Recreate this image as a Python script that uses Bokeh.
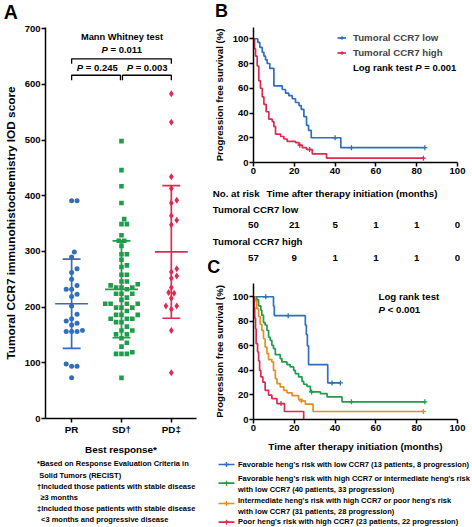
import numpy as np
from bokeh.plotting import figure
from bokeh.layouts import row, column
from bokeh.models import Label, Legend, LegendItem, FixedTicker
from bokeh.embed import file_html
from bokeh.resources import INLINE

# ---------------- data ----------------
groups = ["PR", "SD†", "PD‡"]
pr_values = [391, 391, 299, 290, 269, 262, 250, 239, 232, 232, 223, 219, 202, 187,
             179, 175, 171, 168, 156, 156, 156, 158, 94, 94, 98, 73]
sd_values = [498, 446, 417, 387, 358, 349, 349, 329, 319, 319, 310, 295, 295, 285, 275,
             272, 258, 258, 246, 246, 241, 239, 235, 235, 235, 232, 224, 224, 224, 217,
             213, 206, 206, 206, 206, 199, 199, 199, 193, 186, 186, 186, 179, 179, 179,
             173, 173, 165, 158, 158, 151, 151, 144, 136, 129, 119, 116, 116, 116, 73]
pd_values = [583, 532, 434, 413, 392, 387, 364, 356, 348, 269, 263, 256, 252, 235,
             226, 225, 216, 202, 202, 196, 158, 82]
group_means = [206, 232, 299]
group_sds = [80, 87, 119]
p_all, p_pr_sd, p_sd_pd = "0.011", "0.245", "0.003"

# Panel B Kaplan-Meier (months, %)
b_low_time = [0, 2.1, 3.1, 4.3, 5.1, 5.9, 6.7, 8.0, 10.0, 14.1, 15.7, 17.3, 19.0, 20.6,
              22.3, 23.4, 24.7, 26.0, 27.0, 28.3, 42.8, 84]
b_low_surv = [100, 97, 93, 89, 86, 83, 80, 76, 62, 59, 56, 54, 51.5, 48.5, 46, 43, 37,
              30, 26, 20, 12, 12]
b_low_cens_t = [40, 48, 84]
b_low_cens_s = [20, 12, 12]
b_high_time = [0, 0.5, 1, 1.8, 2.6, 3.4, 4.3, 5.1, 6.2, 7.5, 9.2, 10, 10.8, 13.3, 14.9,
               16.5, 20.6, 22.3, 23.9, 26, 28.8, 35.8, 83.3]
b_high_surv = [100, 92, 86, 78, 66, 60, 53, 47, 41, 35, 33, 29, 23, 21, 19, 17, 16, 14,
               12, 10.5, 7, 3.5, 3.5]
b_high_cens_t = [22.7, 27.5, 83.3]
b_high_cens_s = [14, 10.5, 3.5]
risk_times = [0, 20, 40, 60, 80, 100]
risk_low = [50, 21, 5, 1, 1, 0]
risk_high = [57, 9, 1, 1, 1, 0]

# Panel C Kaplan-Meier
c_blue_time = [0, 9.8, 10.2, 25.4, 25.9, 26.4, 27.0, 36.4, 42.6]
c_blue_surv = [100, 92.3, 84.6, 76.9, 69.2, 60.0, 44.7, 29.8, 29.8]
c_blue_cens_t = [6, 17, 38.5, 42.6]
c_blue_cens_s = [100, 84.6, 29.8, 29.8]
c_green_time = [0, 1.6, 2.5, 3.6, 4.1, 4.9, 5.7, 6.6, 7.4, 8.2, 9.0, 9.8, 10.7, 13.1,
                13.9, 16.4, 18.0, 19.7, 20.5, 22.1, 23.8, 24.6, 26.2, 27.9, 32.8, 36.1,
                43.4, 84]
c_green_surv = [100, 97.5, 92.5, 89, 85, 79, 77, 72.5, 67, 64.5, 60.4, 57.7, 52.8, 49.6,
                46.9, 44.7, 42.8, 40, 37.4, 34.7, 31, 28.7, 27, 22.5, 21, 18.4, 14.4, 14.4]
c_green_cens_t = [28.5, 48, 84]
c_green_cens_s = [22.5, 14.4, 14.4]
c_orange_time = [0, 0.8, 1.6, 2.5, 3.3, 4.1, 4.9, 5.7, 6.6, 7.4, 9.0, 9.8, 10.7, 11.5,
                 13.1, 14.8, 16.4, 18.9, 22.1, 23.8, 25.4, 29.2, 83.3]
c_orange_surv = [100, 96.8, 90.3, 83.9, 77.4, 72.6, 65.8, 59, 53.7, 48.8, 46.9, 40, 33.3,
                 29.3, 26.6, 23.8, 21.7, 19.4, 16.3, 15.2, 12.5, 6.5, 6.5]
c_orange_cens_t = [23.4, 83.3]
c_orange_cens_s = [15.2, 6.5]
c_red_time = [0, 0.3, 0.6, 1.0, 1.3, 2.0, 2.5, 3.0, 3.6, 4.6, 5.7, 7.4, 9.0, 11.5, 15.2, 24.6]
c_red_surv = [100, 91.3, 82.6, 73.9, 61.8, 55, 47.8, 40, 34.8, 30.4, 23.8, 19.8, 17, 13, 6.5, 0]
c_red_cens_t = [13.5]
c_red_cens_s = [13]
c_labels = [
    ["Favorable heng's risk with low CCR7 (13 patients, 8 progression)"],
    ["Favorable heng's risk with high CCR7 or intermediate heng's risk",
     "with low CCR7 (40 patients, 33 progression)"],
    ["Intermediate heng's risk with high CCR7 or poor heng's risk",
     "with low CCR7 (31 patients, 28 progression)"],
    ["Poor heng's risk with high CCR7 (23 patients, 22 progression)"],
]
footnotes = ["*Based on Response Evaluation Criteria in", "Solid Tumors (RECIST)",
             "†Included those patients with stable disease", "≥3 months",
             "‡Included those patients with stable disease", "<3 months and progressive disease"]

# ---------------- styling ----------------
FONT = "Liberation Sans"
BLUE, GREEN, RED, ORANGE = "#2f6fbd", "#1f9d4b", "#de2a50", "#e3901f"
COMMON = dict(output_backend="svg", toolbar_location=None)


def fs(px):
    return f"{px:.2f}px"


AW = {' ': .278, '=': .584, '<': .584, '.': .278, 'P': .667, 'L': .611, 'o': .611,
      'g': .611, 'r': .389, 'a': .556, 'n': .611, 'k': .556, 't': .333, 'e': .556, 's': .556}


def tw(s, size):
    return sum(AW.get(c, .556) for c in s) * size


def lab(fig, x, y, text, size, align="left", style="bold", xoff=0.0):
    fig.add_layout(Label(x=x, y=y, text=text, text_font=FONT, text_font_style=style,
                         text_font_size=fs(size), text_align=align, text_baseline="middle",
                         x_offset=xoff, text_color="black"))


def ptext(fig, x, y, pre, post, size, align="left"):
    total = tw(pre, size) + tw("P", size) + tw(post, size)
    start = -total / 2 if align == "center" else 0.0
    if pre.strip():
        lab(fig, x, y, pre.strip(), size, xoff=start)
    lab(fig, x, y, "P", size, style="bold italic", xoff=start + tw(pre, size))
    rest = post.lstrip()
    lead = tw(post[:len(post) - len(rest)], size)
    lab(fig, x, y, rest, size, xoff=start + tw(pre, size) + tw("P", size) + lead)


def no_align(f):
    try:
        f.frame_align = False
    except Exception:
        pass
    return f


def style(fig, tick_px, title_px):
    no_align(fig)
    fig.grid.visible = False
    fig.outline_line_color = None
    fig.background_fill_color = "white"
    fig.border_fill_color = "white"
    for ax in fig.axis:
        ax.axis_line_width = 1.5
        ax.axis_line_color = "black"
        ax.major_tick_line_width = 1.5
        ax.major_tick_line_color = "black"
        ax.major_tick_in = 0
        ax.major_tick_out = 4
        ax.minor_tick_in = 0
        ax.minor_tick_out = 0
        ax.major_label_text_font = FONT
        ax.major_label_text_font_style = "bold"
        ax.major_label_text_font_size = fs(tick_px)
        ax.major_label_text_color = "black"
        ax.major_label_standoff = 1
        ax.axis_label_text_font = FONT
        ax.axis_label_text_font_style = "bold"
        ax.axis_label_text_font_size = fs(title_px)
        ax.axis_label_text_color = "black"


def textfig(w, h, xr=None):
    # plain drawing area without axes: its frame is the whole figure
    f = figure(width=w, height=h, x_range=xr if xr else (0, w), y_range=(h, 0),
               x_axis_type=None, y_axis_type=None,
               min_border=0, min_border_left=0, min_border_right=0,
               min_border_top=0, min_border_bottom=0, **COMMON)
    no_align(f)
    f.grid.visible = False
    f.outline_line_color = None
    f.background_fill_color = "white"
    f.border_fill_color = "white"
    return f


# page layout (pixels, whole window 472 x 527)
WA, WR = 207, 265
STRIP = 22
A_BOT = 457
B_BOT = 181
C_TOP, C_BOT = 277, 458

# ---------------- Panel A ----------------
A_XR, A_YR = (0.476, 3.505), (0, 702)
A_FL, A_FR, A_FT, A_FB = 40, 196, 27, 420


def a_xy(X, Y):  # reference pixel -> data
    return (A_XR[0] + (X - A_FL) / (A_FR - A_FL) * (A_XR[1] - A_XR[0]),
            A_YR[1] * (A_FB - Y) / (A_FB - A_FT))


stripA = textfig(WA, STRIP)
lab(stripA, 10.3, 11.2, "A", 19.5, align="center")

pA = figure(width=WA, height=A_BOT - STRIP, x_range=A_XR, y_range=A_YR,
            min_border_left=A_FL, min_border_right=WA - A_FR,
            min_border_top=A_FT - STRIP, min_border_bottom=A_BOT - A_FB, **COMMON)
style(pA, 9.5, 11.8)
pA.xaxis.ticker = FixedTicker(ticks=[1, 2, 3])
pA.xaxis.major_label_overrides = {1: groups[0], 2: groups[1], 3: groups[2]}
pA.yaxis.ticker = FixedTicker(ticks=list(range(0, 701, 100)))
pA.yaxis.axis_label = "Tumoral CCR7 immunohistochemistry IOD score"
pA.yaxis.axis_label_standoff = 4
pA.xaxis.axis_label = "Best response*"
pA.xaxis.axis_label_standoff = 6
pA.xaxis.major_label_text_font_size = fs(9.8)
pA.xaxis.axis_label_text_font_size = fs(9.9)


def swarm(vals, d=5.6, ppu_y=393 / 702, ppu_x=156 / 3.029):
    vals = np.asarray(vals, float)
    order = np.argsort(vals)
    placed, xo = [], np.zeros(len(vals))
    cands = [0.0]
    for k in range(1, 14):
        cands += [k * d * 0.5, -k * d * 0.5]
    for i in order:
        py = vals[i] * ppu_y
        for c in cands:
            if all((c - qx) ** 2 + (py - qy) ** 2 >= (d * 0.98) ** 2 for qx, qy in placed):
                break
        placed.append((c, py))
        xo[i] = c / ppu_x
    return xo


for gi, (vals, col, mk, sz) in enumerate([(pr_values, BLUE, "circle", 5.0),
                                           (sd_values, GREEN, "square", 4.6),
                                           (pd_values, RED, "diamond", 7.0)]):
    pA.scatter(x=gi + 1 + swarm(vals), y=vals, marker=mk, size=sz, fill_color=col,
               line_color=None)

cxs = np.arange(1, 4)
m = np.array(group_means, float)
s = np.array(group_sds, float)
cols = [BLUE, GREEN, RED]
pA.segment(x0=cxs, y0=m - s, x1=cxs, y1=m + s, line_color=cols, line_width=1.7)
pA.segment(x0=cxs - 0.33, y0=m, x1=cxs + 0.33, y1=m, line_color=cols, line_width=1.7)
pA.segment(x0=cxs - 0.18, y0=m + s, x1=cxs + 0.18, y1=m + s, line_color=cols, line_width=1.7)
pA.segment(x0=cxs - 0.18, y0=m - s, x1=cxs + 0.18, y1=m - s, line_color=cols, line_width=1.7)

# significance brackets
top_y, low_y, tk = a_xy(0, 58.5)[1], a_xy(0, 75)[1], 9
pA.multi_line(xs=[[1, 1, 3, 3], [1, 1, 1.98, 1.98], [2.02, 2.02, 3, 3]],
              ys=[[top_y - tk, top_y, top_y, top_y - tk], [low_y - tk, low_y, low_y, low_y - tk],
                  [low_y - tk, low_y, low_y, low_y - tk]],
              line_color="black", line_width=1.3)
lab(pA, *a_xy(119, 37), "Mann Whitney test", 9.3, align="center")
ptext(pA, *a_xy(119, 49.5), "", " = " + p_all, 9.5, align="center")
ptext(pA, *a_xy(93.5, 67), "", " = " + p_pr_sd, 9.5, align="center")
ptext(pA, *a_xy(145, 67), "", " = " + p_sd_pd, 9.5, align="center")

footA = textfig(WA, 527 - A_BOT)
for t, X, Y in zip(footnotes, [36.5, 38.7, 36.5, 40, 36.5, 40.5],
                   [463.3, 475, 486, 497, 508, 519]):
    lab(footA, X, Y - A_BOT, t, 7.5)

# ---------------- Panel B ----------------
B_YR = (0, 109.1)
B_FL, B_FR, B_FT, B_FB = 253, 457, 27, 162
BL, BR = B_FL - WA, 472 - B_FR


def b_xy(X, Y):
    return ((X - B_FL) / (B_FR - B_FL) * 100, B_YR[1] * (B_FB - Y) / (B_FB - B_FT))


stripB = textfig(WR, STRIP)
lab(stripB, 221 - WA, 10.5, "B", 18, align="center")

pB = figure(width=WR, height=B_BOT - STRIP, x_range=(0, 100), y_range=B_YR,
            min_border_left=BL, min_border_right=BR, min_border_top=B_FT - STRIP,
            min_border_bottom=B_BOT - B_FB, **COMMON)
style(pB, 9.5, 9.6)
pB.xaxis.ticker = FixedTicker(ticks=risk_times)
pB.yaxis.ticker = FixedTicker(ticks=[0, 20, 40, 60, 80, 100])
pB.yaxis.axis_label = "Progression free survival (%)"
pB.yaxis.axis_label_standoff = 5

rb1 = pB.step(b_low_time, b_low_surv, mode="after", line_color=BLUE, line_width=1.7)
cb1 = pB.scatter(b_low_cens_t, b_low_cens_s, marker="cross", size=5, line_color=BLUE, line_width=1.3)
rb2 = pB.step(b_high_time, b_high_surv, mode="after", line_color=RED, line_width=1.7)
cb2 = pB.scatter(b_high_cens_t, b_high_cens_s, marker="cross", size=5, line_color=RED, line_width=1.3)

legB = Legend(items=[LegendItem(label="Tumoral CCR7 low", renderers=[rb1, cb1]),
                     LegendItem(label="Tumoral CCR7 high", renderers=[rb2, cb2])],
              location=(337 - B_FL, round(B_FB - 57.5)), padding=0, margin=0, spacing=4,
              label_height=11, glyph_height=11, glyph_width=9, label_standoff=7,
              border_line_color=None, background_fill_alpha=0, label_text_font=FONT,
              label_text_font_style="bold", label_text_font_size=fs(9.7))
pB.add_layout(legB)
ptext(pB, *b_xy(352.5, 66.7), "Log rank test ", " = 0.001", 9.5)

# number-at-risk table: uses the time scale of panel B
ppm = (B_FR - B_FL) / 100.0
riskB = textfig(WR, C_TOP - B_BOT, xr=(-BL / ppm, (WR - BL) / ppm))


def r_xy(X, Y):
    return ((X - B_FL) / ppm, Y - B_BOT)


lab(riskB, *r_xy(212.3, 192.5), "No. at risk", 9.7)
lab(riskB, *r_xy(266, 192.5), "Time after therapy initiation (months)", 9.7)
lab(riskB, *r_xy(212.3, 208.7), "Tumoral CCR7 low", 9.7)
lab(riskB, *r_xy(212.3, 241.3), "Tumoral CCR7 high", 9.7)
for t, n1, n2 in zip(risk_times, risk_low, risk_high):
    lab(riskB, t, r_xy(0, 224.5)[1], str(n1), 9.7, align="center")
    lab(riskB, t, r_xy(0, 257.3)[1], str(n2), 9.7, align="center")
lab(riskB, *r_xy(213.3, 266.7), "C", 18, align="center")

# ---------------- Panel C ----------------
C_YR = (0, 110.8)
C_FT, C_FB = 283, 419


def c_xy(X, Y):
    return ((X - B_FL) / (B_FR - B_FL) * 100, C_YR[1] * (C_FB - Y) / (C_FB - C_FT))


pC = figure(width=WR, height=C_BOT - C_TOP, x_range=(0, 100), y_range=C_YR,
            min_border_left=BL, min_border_right=BR, min_border_top=C_FT - C_TOP,
            min_border_bottom=C_BOT - C_FB, **COMMON)
style(pC, 9.5, 9.6)
pC.xaxis.ticker = FixedTicker(ticks=[0, 20, 40, 60, 80, 100])
pC.yaxis.ticker = FixedTicker(ticks=[0, 20, 40, 60, 80, 100])
pC.yaxis.axis_label = "Progression free survival (%)"
pC.yaxis.axis_label_standoff = 5
pC.xaxis.axis_label = "Time after therapy initiation (months)"
pC.xaxis.axis_label_standoff = 7
pC.xaxis.axis_label_text_font_size = fs(9.9)

c_series = [(c_blue_time, c_blue_surv, c_blue_cens_t, c_blue_cens_s, BLUE),
            (c_green_time, c_green_surv, c_green_cens_t, c_green_cens_s, GREEN),
            (c_orange_time, c_orange_surv, c_orange_cens_t, c_orange_cens_s, ORANGE),
            (c_red_time, c_red_surv, c_red_cens_t, c_red_cens_s, RED)]
for tt, ss, ct, cs, col in c_series:
    pC.step(tt, ss, mode="after", line_color=col, line_width=1.7)
    pC.scatter(ct, cs, marker="cross", size=5, line_color=col, line_width=1.3)

lab(pC, *c_xy(378, 296), "Log rank test", 9.7)
ptext(pC, *c_xy(378, 308.8), "", " < 0.001", 9.7)

# legend of panel C (below the axis title)
legC = textfig(WR, 527 - C_BOT)
key_y = [464, 482.7, 503, 521.7]
line_y = [[463.5], [478, 488.5], [500, 510.5], [521.2]]
kx0, kx1 = 218 - WA, 234 - WA
for (tt, ss, ct, cs, col), ky, lys, lines in zip(c_series, key_y, line_y, c_labels):
    yy = ky - C_BOT
    legC.line([kx0, kx1], [yy, yy], line_color=col, line_width=1.7)
    legC.scatter([(kx0 + kx1) / 2], [yy], marker="cross", size=5, line_color=col, line_width=1.3)
    for ly, txt in zip(lys, lines):
        lab(legC, 237.5 - WA, ly - C_BOT, txt, 7.5)

layout = row(column(stripA, pA, footA), column(stripB, pB, riskB, pC, legC))
open("out.html", "w").write(file_html(layout, INLINE))
